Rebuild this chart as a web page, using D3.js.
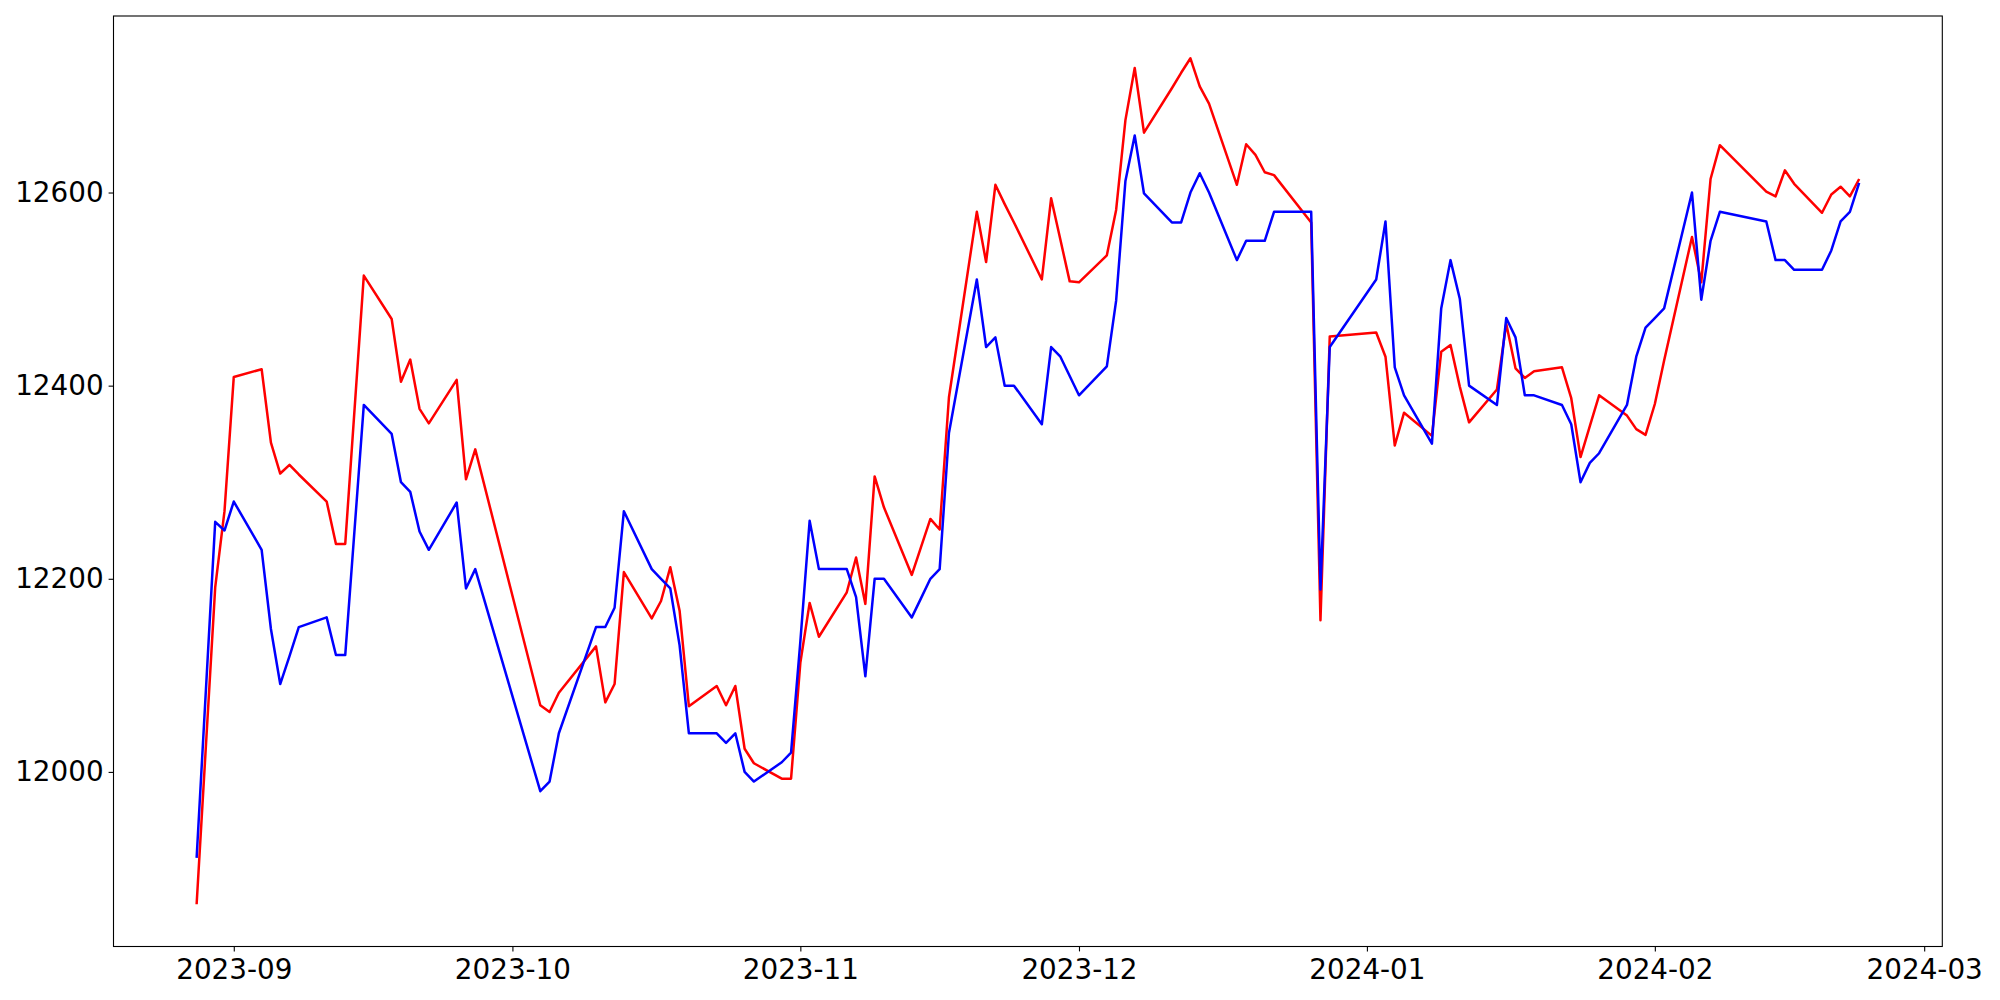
<!DOCTYPE html>
<html>
<head>
<meta charset="utf-8">
<script src="https://cdn.jsdelivr.net/npm/d3@7"></script>
<style>
  body { margin: 0; background: #fff; }
  svg text { font-family: "DejaVu Sans", sans-serif; }
</style>
</head>
<body>
<div id="chart"></div>
<script>
// trading days
var dates = [
  "2023-08-28","2023-08-30","2023-08-31","2023-09-01","2023-09-04","2023-09-05","2023-09-06","2023-09-07","2023-09-08",
  "2023-09-11","2023-09-12","2023-09-13","2023-09-15","2023-09-18","2023-09-19","2023-09-20","2023-09-21","2023-09-22",
  "2023-09-25","2023-09-26","2023-09-27","2023-10-04","2023-10-05","2023-10-06","2023-10-10","2023-10-11","2023-10-12",
  "2023-10-13","2023-10-16","2023-10-17","2023-10-18","2023-10-19","2023-10-20","2023-10-23","2023-10-24","2023-10-25",
  "2023-10-26","2023-10-27","2023-10-30","2023-10-31","2023-11-01","2023-11-02","2023-11-03","2023-11-06","2023-11-07",
  "2023-11-08","2023-11-09","2023-11-10","2023-11-13","2023-11-14","2023-11-15","2023-11-16","2023-11-17","2023-11-20",
  "2023-11-21","2023-11-22","2023-11-23","2023-11-24","2023-11-27","2023-11-28","2023-11-29","2023-11-30","2023-12-01",
  "2023-12-04","2023-12-05","2023-12-06","2023-12-07","2023-12-08","2023-12-11","2023-12-12","2023-12-13","2023-12-14",
  "2023-12-15","2023-12-18","2023-12-19","2023-12-20","2023-12-21","2023-12-22","2023-12-26","2023-12-27","2023-12-28",
  "2024-01-02","2024-01-03","2024-01-04","2024-01-05","2024-01-08","2024-01-09","2024-01-10","2024-01-11","2024-01-12",
  "2024-01-15","2024-01-16","2024-01-17","2024-01-18","2024-01-19","2024-01-22","2024-01-23","2024-01-24","2024-01-25",
  "2024-01-26","2024-01-29","2024-01-30","2024-01-31","2024-02-01","2024-02-02","2024-02-05","2024-02-06","2024-02-07",
  "2024-02-08","2024-02-13","2024-02-14","2024-02-15","2024-02-16","2024-02-19","2024-02-20","2024-02-21","2024-02-22",
  "2024-02-23"
];

var redValues = [
  11863,12191,12270,12409,12417,12341,12309,12318,12308,
  12280,12236,12236,12514,12469,12404,12427,12376,12361,
  12406,12303,12334,12069,12062,12082,12130,12072,12091,
  12207,12159,12177,12212,12167,12068,12089,12069,12089,
  12024,12009,11993,11993,12113,12175,12140,12186,12222,
  12174,12306,12274,12204,12233,12262,12251,12388,12580,
  12528,12608,12588,12569,12510,12594,12551,12508,12507,
  12535,12582,12675,12729,12662,12708,12724,12739,12710,
  12692,12608,12650,12639,12621,12618,12569,12157,12451,
  12455,12430,12338,12372,12348,12435,12442,12399,12362,
  12396,12464,12418,12408,12415,12419,12387,12326,12358,
  12390,12369,12355,12349,12381,12426,12554,12507,12614,
  12649,12601,12596,12623,12609,12579,12598,12606,12596,
  12614
];

var blueValues = [
  11911,12259,12250,12280,12230,12148,12091,12120,12150,
  12160,12121,12121,12380,12350,12300,12290,12249,12230,
  12279,12190,12210,11980,11990,12040,12150,12150,12170,
  12270,12210,12200,12190,12131,12040,12040,12030,12040,
  12000,11990,12010,12020,12135,12260,12210,12210,12181,
  12099,12200,12200,12160,12180,12200,12210,12351,12510,
  12440,12450,12400,12400,12360,12440,12430,12410,12390,
  12420,12488,12612,12659,12599,12569,12569,12600,12620,
  12600,12530,12550,12550,12550,12580,12580,12189,12440,
  12510,12570,12419,12390,12340,12480,12530,12490,12400,
  12380,12470,12450,12390,12390,12380,12360,12300,12320,
  12330,12380,12430,12460,12470,12480,12600,12489,12550,
  12580,12570,12530,12530,12520,12520,12540,12570,12580,
  12610
];

var yTicks = [12000, 12200, 12400, 12600];

var width = 2000, height = 1000;
var margin = {top: 16, right: 57.7, bottom: 53.5, left: 113.5};
var fontSize = 27.8;

var parse = d3.timeParse("%Y-%m-%d");
var redData = dates.map(function(d, i){ return {date: parse(d), value: redValues[i]}; });
var blueData = dates.map(function(d, i){ return {date: parse(d), value: blueValues[i]}; });

var svg = d3.select("#chart").append("svg")
  .attr("width", width)
  .attr("height", height);

// matplotlib style 5% margins on both axes
var xExt = d3.extent(redData, d => d.date);
var xPad = (xExt[1] - xExt[0]) * 0.05;
var allVals = redValues.concat(blueValues);
var yMin = d3.min(allVals), yMax = d3.max(allVals);
var yPad = (yMax - yMin) * 0.05;

var x = d3.scaleTime()
  .domain([new Date(+xExt[0] - xPad), new Date(+xExt[1] + xPad)])
  .range([margin.left, width - margin.right]);

var y = d3.scaleLinear()
  .domain([yMin - yPad, yMax + yPad])
  .range([height - margin.bottom, margin.top]);

// axes
var xAxis = svg.append("g")
  .attr("transform", "translate(0," + (height - margin.bottom) + ")")
  .call(d3.axisBottom(x)
    .ticks(d3.timeMonth.every(1))
    .tickFormat(d3.timeFormat("%Y-%m"))
    .tickSize(4.9)
    .tickPadding(8));
xAxis.select(".domain").remove();

var yAxis = svg.append("g")
  .attr("transform", "translate(" + margin.left + ",0)")
  .call(d3.axisLeft(y)
    .tickValues(yTicks)
    .tickFormat(d3.format("d"))
    .tickSize(4.9)
    .tickPadding(5));
yAxis.select(".domain").remove();

svg.selectAll(".tick line").attr("stroke", "#000").attr("stroke-width", 1.1);
svg.selectAll(".tick text")
  .attr("fill", "#000")
  .style("font-size", fontSize + "px");

// lines
var line = d3.line()
  .x(d => x(d.date))
  .y(d => y(d.value));

svg.append("path")
  .datum(redData)
  .attr("fill", "none")
  .attr("stroke", "#ff0000")
  .attr("stroke-width", 2.5)
  .attr("stroke-linejoin", "round")
  .attr("d", line);

svg.append("path")
  .datum(blueData)
  .attr("fill", "none")
  .attr("stroke", "#0000ff")
  .attr("stroke-width", 2.5)
  .attr("stroke-linejoin", "round")
  .attr("d", line);

// frame
svg.append("rect")
  .attr("x", margin.left)
  .attr("y", margin.top)
  .attr("width", width - margin.left - margin.right)
  .attr("height", height - margin.top - margin.bottom)
  .attr("fill", "none")
  .attr("stroke", "#000")
  .attr("stroke-width", 1.1);
</script>
</body>
</html>
